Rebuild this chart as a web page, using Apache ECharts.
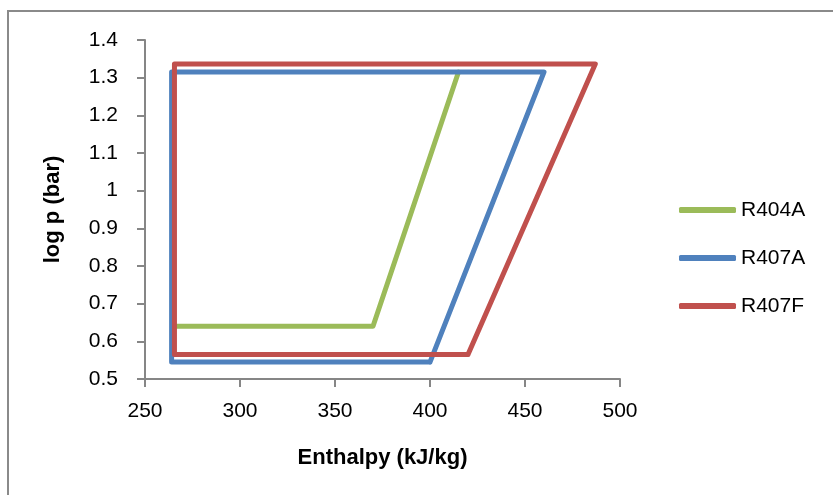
<!DOCTYPE html>
<html>
<head>
<meta charset="utf-8">
<script src="https://cdn.jsdelivr.net/npm/echarts@6/dist/echarts.min.js"></script>
<style>
html,body{margin:0;padding:0;background:#fff;}
#c{width:833px;height:495px;}
</style>
</head>
<body>
<div id="c"></div>
<script>
var seriesNames = ['R404A', 'R407A', 'R407F'];
var seriesColors = ['#9BBB59', '#4F81BD', '#C0504D'];
var r404aX = [265, 370, 415];
var r404aY = [0.64, 0.64, 1.315];
var r407aX = [400, 460, 264, 264, 400];
var r407aY = [0.545, 1.315, 1.315, 0.545, 0.545];
var r407fX = [420, 487, 265.5, 265.5, 420];
var r407fY = [0.565, 1.336, 1.336, 0.565, 0.565];
var xTitle = 'Enthalpy (kJ/kg)';
var yTitle = 'log p (bar)';

function pairs(xs, ys){ return xs.map(function(x,i){ return [x, ys[i]]; }); }
var allX = [r404aX, r407aX, r407fX];
var allY = [r404aY, r407aY, r407fY];

var font = "'Liberation Sans', Arial, sans-serif";
var chart = echarts.init(document.getElementById('c'), null, {renderer:'canvas'});
var axisColor = '#868686';
chart.setOption({
  animation: false,
  backgroundColor: '#fff',
  textStyle: {fontFamily: font},
  graphic: [{
    type: 'rect', silent: true,
    shape: {x: 8, y: 11, width: 900, height: 600},
    style: {fill: 'none', stroke: '#8a8a8a', lineWidth: 2}
  }],
  grid: {left: 145, right: 213, top: 40, bottom: 116},
  legend: {
    orient: 'vertical', left: 674, top: 194,
    icon: 'roundRect', itemWidth: 57, itemHeight: 6, itemGap: 26,
    textStyle: {fontFamily: font, fontSize: 21, color: '#000', lineHeight: 22},
    data: seriesNames
  },
  xAxis: {
    type: 'value', min: 250, max: 500, interval: 50,
    name: xTitle, nameLocation: 'middle', nameGap: 68,
    nameTextStyle: {fontFamily: font, fontSize: 22, fontWeight: 'bold', color: '#000'},
    axisLine: {show: true, lineStyle: {color: axisColor, width: 2}},
    axisTick: {show: true, length: 8, lineStyle: {color: axisColor, width: 2}},
    axisLabel: {fontFamily: font, fontSize: 21, color: '#000', margin: 22},
    splitLine: {show: false}
  },
  yAxis: {
    type: 'value', min: 0.5, max: 1.4, interval: 0.1,
    name: yTitle, nameLocation: 'middle', nameGap: 81, nameRotate: 90,
    nameTextStyle: {fontFamily: font, fontSize: 22, fontWeight: 'bold', color: '#000'},
    axisLine: {show: true, lineStyle: {color: axisColor, width: 2}},
    axisTick: {show: true, length: 8, lineStyle: {color: axisColor, width: 2}},
    axisLabel: {fontFamily: font, fontSize: 21, color: '#000', margin: 27,
      formatter: function(v){ return String(Math.round(v*10)/10); }},
    splitLine: {show: false}
  },
  series: seriesNames.map(function(n, i){
    return {
      name: n, type: 'line', showSymbol: false, symbol: 'none',
      data: pairs(allX[i], allY[i]),
      color: seriesColors[i],
      lineStyle: {color: seriesColors[i], width: 5, cap: 'round', join: 'round'},
      z: 2 + i
    };
  })
});
</script>
</body>
</html>
